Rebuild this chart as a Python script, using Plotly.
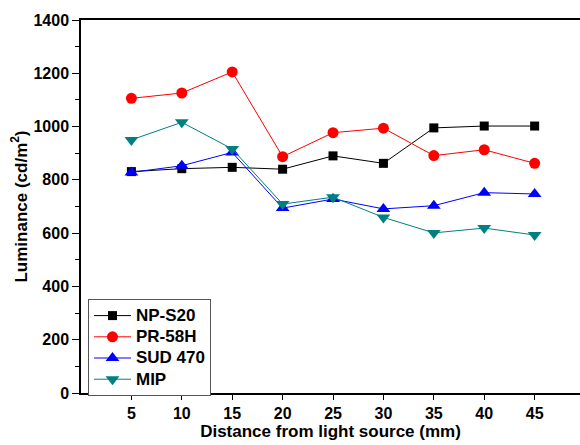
import plotly.graph_objects as go

# Distance from the light source (mm)
distance = [5, 10, 15, 20, 25, 30, 35, 40, 45]

# Measured luminance (cd/m^2) for each sample
np_s20 = [831, 842, 847, 840, 890, 862, 995, 1002, 1002]
pr_58h = [1106, 1126, 1205, 887, 977, 994, 891, 913, 862]
sud_470 = [828, 853, 903, 694, 728, 691, 703, 752, 747]
mip = [950, 1016, 916, 709, 735, 659, 601, 619, 593]

series = [
    ("NP-S20", np_s20, "#000000", "square", 9),
    ("PR-58H", pr_58h, "#FF0000", "circle", 11),
    ("SUD 470", sud_470, "#0000FF", "triangle-up", 12),
    ("MIP", mip, "#008080", "triangle-down", 12),
]

FONT = "Arial, 'Liberation Sans', sans-serif"

fig = go.Figure()
for name, values, color, symbol, size in series:
    fig.add_trace(go.Scatter(
        x=distance, y=values, mode="lines+markers",
        # larger legend text while keeping the entries tightly stacked
        name=f"<span style='font-size:17px'>{name}</span>",
        line=dict(color=color, width=1),
        marker=dict(color=color, symbol=symbol, size=size, line=dict(width=0)),
    ))

fig.update_layout(
    width=580, height=445,
    margin=dict(l=81, r=0, t=20, b=52),
    plot_bgcolor="white", paper_bgcolor="white",
    font=dict(family=FONT, size=16, color="black", weight="bold"),
    showlegend=True,
    legend=dict(
        x=0.014, y=0.252, xanchor="left", yanchor="top",
        bgcolor="white", bordercolor="#555555", borderwidth=1,
        font=dict(family=FONT, size=14, color="black", weight="bold"),
        tracegroupgap=0, itemwidth=37,
    ),
)

fig.update_xaxes(
    range=[0, 49.5],
    tickvals=[5, 10, 15, 20, 25, 30, 35, 40, 45],
    ticks="outside", ticklen=5, tickwidth=1, tickcolor="black",
    showline=True, linecolor="black", linewidth=1.5, mirror=True,
    showgrid=False, zeroline=False,
    tickfont=dict(family=FONT, size=16, color="black", weight="bold"),
    title=dict(text="Distance from light source (mm)", standoff=4,
               font=dict(family=FONT, size=17, color="black", weight="bold")),
)

fig.update_yaxes(
    range=[0, 1400], dtick=200,
    ticks="outside", ticklen=7, tickwidth=1, tickcolor="black",
    minor=dict(dtick=100, ticks="outside", ticklen=4, tickcolor="black"),
    showline=True, linecolor="black", linewidth=1.5,
    showgrid=False, zeroline=False,
    tickfont=dict(family=FONT, size=16, color="black", weight="bold"),
    title=dict(text="Luminance (cd/m<sup>2</sup>)", standoff=2,
               font=dict(family=FONT, size=17, color="black", weight="bold")),
)

fig.write_html("out.html")
